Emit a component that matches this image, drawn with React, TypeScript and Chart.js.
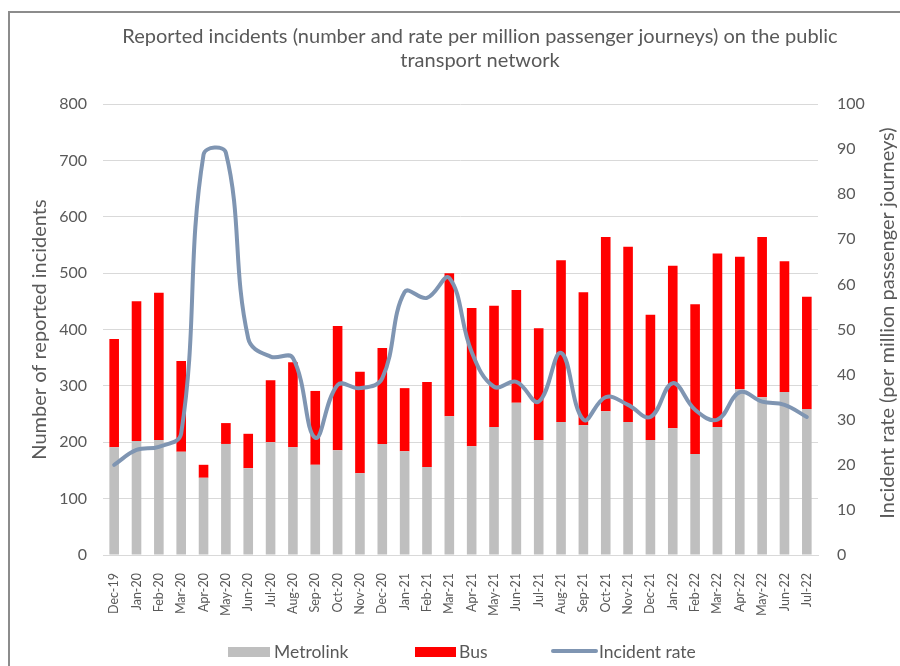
import React, { useEffect, useRef } from "react";
import { Chart, registerables } from "chart.js";

Chart.register(...registerables);

const months = [
  "Dec-19", "Jan-20", "Feb-20", "Mar-20", "Apr-20", "May-20", "Jun-20", "Jul-20",
  "Aug-20", "Sep-20", "Oct-20", "Nov-20", "Dec-20", "Jan-21", "Feb-21", "Mar-21",
  "Apr-21", "May-21", "Jun-21", "Jul-21", "Aug-21", "Sep-21", "Oct-21", "Nov-21",
  "Dec-21", "Jan-22", "Feb-22", "Mar-22", "Apr-22", "May-22", "Jun-22", "Jul-22",
];

const metrolink = [
  191, 202, 204, 183, 137, 197, 154, 200, 191, 160, 186, 145, 197, 184, 156, 246,
  193, 227, 270, 204, 236, 230, 255, 236, 204, 225, 179, 227, 294, 280, 289, 259,
];

const bus = [
  192, 248, 261, 161, 23, 37, 61, 110, 151, 131, 220, 180, 170, 112, 151, 254,
  245, 215, 200, 198, 287, 236, 309, 311, 222, 288, 266, 308, 235, 284, 232, 199,
];

const incidentRate = [
  20, 23.3, 24, 27, 88.8, 89.2, 48, 44, 43.7, 26, 37.7, 37, 39.2, 58.3, 57, 61.4,
  45, 37.3, 38.4, 34, 44.8, 30, 35, 33.3, 30.6, 38.1, 32.2, 30, 36.1, 34, 33.3, 30.6,
];

const titleLines = [
  "Reported incidents (number and rate per million passenger journeys) on the public",
  "transport network",
];
const leftTitle = "Number of reported incidents";
const rightTitle = "Incident rate (per million passenger journeys)";

const GREY_TEXT = "#595959";
const METRO_COLOR = "#bfbfbf";
const BUS_COLOR = "#ff0000";
const LINE_COLOR = "#7f95b2";
const FONT = "Lato";

const overlayPlugin = {
  id: "overlay",
  afterDraw(chart: any) {
    const ctx = chart.ctx as CanvasRenderingContext2D;
    ctx.save();
    ctx.fillStyle = GREY_TEXT;
    ctx.textBaseline = "middle";
    // title
    ctx.font = `20px ${FONT}`;
    ctx.textAlign = "center";
    ctx.fillText(titleLines[0], 480, 37);
    ctx.fillText(titleLines[1], 480, 61);
    // right axis title (reads bottom-to-top)
    ctx.save();
    ctx.translate(888, 323);
    ctx.rotate(-Math.PI / 2);
    ctx.font = `20px ${FONT}`;
    ctx.fillText(rightTitle, 0, 0);
    ctx.restore();
    // legend
    ctx.font = `17.5px ${FONT}`;
    ctx.textAlign = "left";
    ctx.fillStyle = METRO_COLOR;
    ctx.fillRect(228, 647, 42, 10);
    ctx.fillStyle = BUS_COLOR;
    ctx.fillRect(415, 647, 41, 10);
    ctx.strokeStyle = LINE_COLOR;
    ctx.lineWidth = 4;
    ctx.lineCap = "round";
    ctx.beginPath();
    ctx.moveTo(553, 651);
    ctx.lineTo(596, 651);
    ctx.stroke();
    ctx.fillStyle = GREY_TEXT;
    ctx.fillText("Metrolink", 274, 652);
    ctx.fillText("Bus", 459, 652);
    ctx.fillText("Incident rate", 599, 652);
    ctx.restore();
  },
};

export default function App() {
  const canvasRef = useRef<HTMLCanvasElement | null>(null);

  useEffect(() => {
    if (!canvasRef.current) return;
    const chart = new Chart(canvasRef.current, {
      type: "bar",
      data: {
        labels: months,
        datasets: [
          {
            type: "line",
            label: "Incident rate",
            data: incidentRate,
            yAxisID: "y1",
            borderColor: LINE_COLOR,
            backgroundColor: LINE_COLOR,
            borderWidth: 4,
            pointRadius: 0,
            tension: 0.4,
            order: 0,
            borderCapStyle: "round",
          } as any,
          {
            type: "bar",
            label: "Metrolink",
            data: metrolink,
            yAxisID: "y",
            backgroundColor: METRO_COLOR,
            categoryPercentage: 1,
            barPercentage: 0.43,
            order: 1,
            stack: "s",
          },
          {
            type: "bar",
            label: "Bus",
            data: bus,
            yAxisID: "y",
            backgroundColor: BUS_COLOR,
            categoryPercentage: 1,
            barPercentage: 0.43,
            order: 1,
            stack: "s",
          },
        ],
      },
      options: {
        responsive: false,
        animation: false,
        devicePixelRatio: 1,
        layout: { padding: { top: 104, left: 0, right: 0, bottom: 0 } },
        plugins: {
          legend: { display: false },
          title: { display: false },
          tooltip: { enabled: false },
        },
        scales: {
          x: {
            stacked: true,
            grid: { display: false },
            border: { display: true, color: "#d9d9d9" },
            ticks: {
              color: GREY_TEXT,
              font: { family: FONT, size: 12.5 },
              minRotation: 90,
              maxRotation: 90,
              autoSkip: false,
              padding: 10,
            },
            afterFit: (s: any) => {
              s.height = 111;
            },
          },
          y: {
            type: "linear",
            position: "left",
            stacked: true,
            min: 0,
            max: 800,
            ticks: {
              stepSize: 100,
              color: GREY_TEXT,
              font: { family: FONT, size: 16 },
              padding: 16,
            },
            grid: { color: "#d9d9d9", lineWidth: 1, drawTicks: false },
            border: { display: false },
            title: {
              display: true,
              text: leftTitle,
              color: GREY_TEXT,
              font: { family: FONT, size: 20 },
              padding: { top: 28, bottom: 0 },
            },
            afterFit: (s: any) => {
              s.width = 103;
            },
          },
          y1: {
            type: "linear",
            position: "right",
            stacked: false,
            min: 0,
            max: 100,
            ticks: {
              stepSize: 10,
              color: GREY_TEXT,
              font: { family: FONT, size: 16 },
              padding: 19,
            },
            grid: { drawOnChartArea: false, drawTicks: false },
            border: { display: false },
            afterFit: (s: any) => {
              s.width = 82;
            },
          },
        },
      },
      plugins: [overlayPlugin],
    });
    return () => chart.destroy();
  }, []);

  return (
    <div
      style={{
        position: "fixed",
        left: 0,
        top: 0,
        width: 900,
        height: 666,
        background: "#fff",
        overflow: "hidden",
      }}
    >
      <div
        style={{
          position: "absolute",
          left: 8,
          top: 11,
          width: 1000,
          height: 1000,
          borderTop: "2px solid #8c8c8c",
          borderLeft: "2px solid #8c8c8c",
        }}
      />
      <canvas
        ref={canvasRef}
        width={900}
        height={666}
        style={{ position: "absolute", left: 0, top: 0, width: 900, height: 666 }}
      />
    </div>
  );
}
